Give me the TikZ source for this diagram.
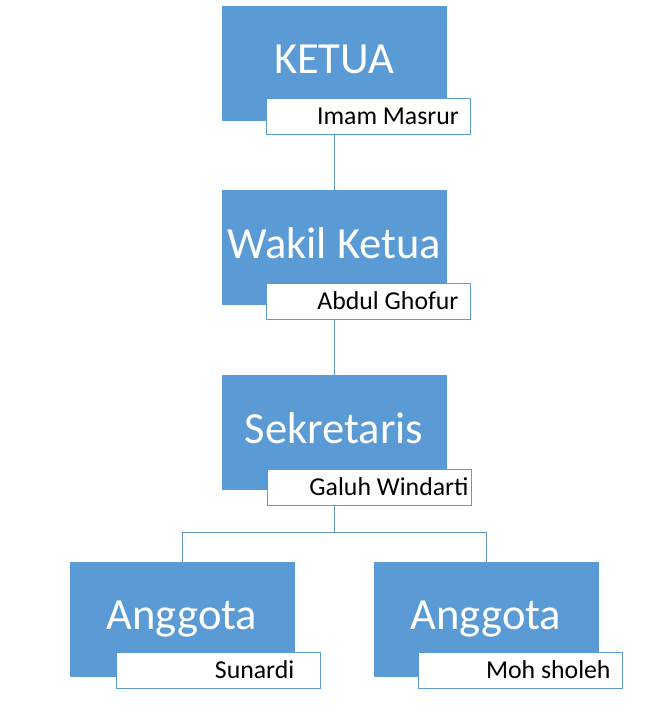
\documentclass[tikz,border=0pt]{standalone}
\usepackage{fontspec}
\setmainfont{Carlito}
\definecolor{boxblue}{HTML}{5B9BD5}
\tikzset{
  rolebox/.style={fill=boxblue, draw=boxblue, text=white, minimum width=224*0.03cm,
    minimum height=114*0.03cm, inner sep=0pt, font=\fontsize{38}{40}\selectfont},
  namebox/.style={fill=white, draw=boxblue, minimum width=204*0.03cm,
    minimum height=36*0.03cm, inner sep=0pt, font=\fontsize{22}{24}\selectfont},
  link/.style={draw=boxblue!80!gray, thin}
}
\begin{document}
\begin{tikzpicture}[x=0.03cm,y=-0.03cm]
  \useasboundingbox (0,0) rectangle (669,720);
  % roles
  \node[rolebox] (ketua) at (334,63)  {\raisebox{6pt}{KETUA}};
  \node[namebox] (n1) at (368,116) {\hspace*{1.2cm}Imam Masrur};
  \node[rolebox] (wakil) at (334,247) {\raisebox{6pt}{Wakil Ketua}};
  \node[namebox] (n2) at (368,301) {\hspace*{1.2cm}Abdul Ghofur};
  \node[rolebox] (sekr) at (334,432) {\raisebox{6pt}{Sekretaris}};
  \node[namebox] (n3) at (369,487) {\hspace*{1.2cm}Galuh Windarti};
  \node[rolebox] (ang1) at (182,619) {\raisebox{6pt}{Anggota}};
  \node[namebox] (n4) at (218,670) {\hspace*{2.2cm}Sunardi};
  \node[rolebox] (ang2) at (486,619) {\raisebox{6pt}{Anggota}};
  \node[namebox] (n5) at (520,670) {\hspace*{1.7cm}Moh sholeh};
  % connectors
  \coordinate (split) at (334,532);
  \draw[link] (ketua.south |- n1.south) -- (wakil.north);
  \draw[link] (wakil.south |- n2.south) -- (sekr.north);
  \draw[link] (sekr.south |- n3.south) -- (split);
  \draw[link] (split) -| (ang1.north);
  \draw[link] (split) -| (ang2.north);
\end{tikzpicture}
\end{document}
